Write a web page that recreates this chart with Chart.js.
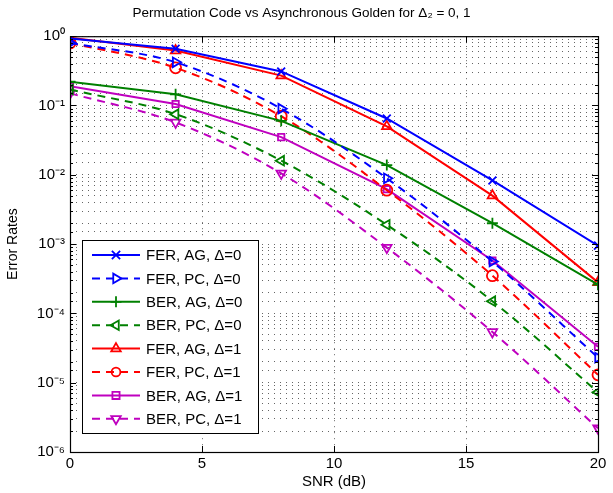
<!DOCTYPE html>
<html>
<head>
<meta charset="utf-8">
<script src="https://cdn.jsdelivr.net/npm/chart.js@4"></script>
<style>
  html, body { margin: 0; padding: 0; background: #fff; }
  #wrap { width: 613px; height: 493px; }
</style>
</head>
<body>
<div id="wrap"><canvas id="errChart" width="613" height="493"></canvas></div>
<script>
// SNR points (dB)
const snr = [0, 4, 8, 12, 16, 20];

// error rates
const ferAg0 = [0.93, 0.66, 0.31, 0.065, 0.0083, 0.00095];
const ferPc0 = [0.8, 0.42, 0.09, 0.0089, 0.00056, 2.3e-5];
const berAg0 = [0.22, 0.145, 0.06, 0.0138, 0.002, 2.6e-4];
const berPc0 = [0.17, 0.075, 0.016, 0.0019, 1.5e-4, 7.3e-6];
const ferAg1 = [0.95, 0.62, 0.27, 0.05, 0.005, 2.8e-4];
const ferPc1 = [0.8, 0.35, 0.07, 0.006, 3.5e-4, 1.3e-5];
const berAg1 = [0.19, 0.105, 0.035, 0.0062, 5.8e-4, 3.3e-5];
const berPc1 = [0.15, 0.057, 0.0105, 8.9e-4, 5.4e-5, 2.2e-6];

const seriesLabels = [
    'FER, AG, \u0394=0', 'FER, PC, \u0394=0', 'BER, AG, \u0394=0', 'BER, PC, \u0394=0',
    'FER, AG, \u0394=1', 'FER, PC, \u0394=1', 'BER, AG, \u0394=1', 'BER, PC, \u0394=1'
];
const seriesData = [ferAg0, ferPc0, berAg0, berPc0, ferAg1, ferPc1, berAg1, berPc1];

const BLUE = '#0000ff', GREEN = '#008000', RED = '#ff0000', MAGENTA = '#bf00bf';
const colors = [BLUE, BLUE, GREEN, GREEN, RED, RED, MAGENTA, MAGENTA];
const markers = ['crossRot', 'triangle', 'cross', 'triangle', 'triangle', 'circle', 'rect', 'triangle'];
const rotations = [0, 90, 0, -90, 0, 0, 0, 180];

const FONT = '"Liberation Sans", Arial, Helvetica, sans-serif';

function sup(n) {
    const map = { '-': '\u207b', '0': '\u2070', '1': '\u00b9', '2': '\u00b2', '3': '\u00b3',
        '4': '\u2074', '5': '\u2075', '6': '\u2076', '7': '\u2077', '8': '\u2078', '9': '\u2079' };
    return String(n).split('').map(c => map[c]).join('');
}

const datasets = seriesData.map((vals, i) => {
    const dashed = i % 2 === 1;
    return {
        label: seriesLabels[i],
        data: snr.map((x, k) => ({ x: x, y: vals[k] })),
        borderColor: colors[i],
        backgroundColor: 'rgba(0,0,0,0)',
        borderWidth: 2,
        borderDash: dashed ? [8, 6] : [],
        cubicInterpolationMode: dashed ? 'monotone' : 'default',
        tension: 0,
        pointStyle: markers[i],
        rotation: rotations[i],
        pointRadius: markers[i] === 'rect' ? 4.5 : 5.5,
        pointBorderWidth: 1.8,
        pointBorderColor: colors[i],
        pointBackgroundColor: 'rgba(0,0,0,0)'
    };
});

// axis box + inner tick marks, matlab style
const boxPlugin = {
    id: 'box',
    afterDatasetsDraw(chart) {
        const { ctx, chartArea: a, scales } = chart;
        ctx.save();
        ctx.strokeStyle = '#000';
        ctx.lineWidth = 1;
        ctx.setLineDash([]);
        ctx.beginPath();
        scales.y.ticks.forEach(t => {
            const y = Math.round(scales.y.getPixelForValue(t.value)) + 0.5;
            const major = t.label !== '';
            const len = major ? 6 : 3;
            ctx.moveTo(a.left, y); ctx.lineTo(a.left + len, y);
            ctx.moveTo(a.right, y); ctx.lineTo(a.right - len, y);
        });
        scales.x.ticks.forEach(t => {
            const x = Math.round(scales.x.getPixelForValue(t.value)) + 0.5;
            ctx.moveTo(x, a.bottom); ctx.lineTo(x, a.bottom - 6);
            ctx.moveTo(x, a.top); ctx.lineTo(x, a.top + 6);
        });
        ctx.stroke();
        ctx.lineWidth = 1.2;
        ctx.strokeRect(a.left + 0.5, a.top + 0.5, a.right - a.left, a.bottom - a.top);
        ctx.restore();
    }
};

function drawMarker(ctx, style, rot, x, y, r) {
    ctx.save();
    ctx.translate(x, y);
    ctx.rotate(rot * Math.PI / 180);
    ctx.beginPath();
    if (style === 'triangle') {
        ctx.moveTo(0, -r);
        ctx.lineTo(r * 0.866, r * 0.5);
        ctx.lineTo(-r * 0.866, r * 0.5);
        ctx.closePath();
    } else if (style === 'circle') {
        ctx.arc(0, 0, r * 0.8, 0, Math.PI * 2);
    } else if (style === 'rect') {
        ctx.rect(-r * 0.65, -r * 0.65, r * 1.3, r * 1.3);
    } else if (style === 'cross') {
        ctx.moveTo(-r, 0); ctx.lineTo(r, 0);
        ctx.moveTo(0, -r); ctx.lineTo(0, r);
    } else if (style === 'crossRot') {
        const d = r * 0.75;
        ctx.moveTo(-d, -d); ctx.lineTo(d, d);
        ctx.moveTo(d, -d); ctx.lineTo(-d, d);
    }
    ctx.stroke();
    ctx.restore();
}

// legend box in the lower left corner, line + marker samples
const legendPlugin = {
    id: 'innerLegend',
    afterDraw(chart) {
        const { ctx } = chart;
        const left = 82, top = 240, w = 176, h = 193;
        const rowH = 23.4;
        ctx.save();
        ctx.fillStyle = '#fff';
        ctx.fillRect(left, top, w, h);
        ctx.strokeStyle = '#000';
        ctx.lineWidth = 1;
        ctx.strokeRect(left + 0.5, top + 0.5, w, h);
        ctx.font = '15px ' + FONT;
        ctx.textBaseline = 'middle';
        chart.data.datasets.forEach((ds, i) => {
            const y = top + 15 + i * rowH;
            ctx.strokeStyle = ds.borderColor;
            ctx.lineWidth = 2;
            ctx.setLineDash(ds.borderDash);
            ctx.beginPath();
            ctx.moveTo(left + 10, y);
            ctx.lineTo(left + 58, y);
            ctx.stroke();
            ctx.setLineDash([]);
            ctx.lineWidth = 1.8;
            drawMarker(ctx, ds.pointStyle, ds.rotation, left + 34, y, 5.5);
            ctx.fillStyle = '#000';
            ctx.fillText(ds.label, left + 64, y + 1);
        });
        ctx.restore();
    }
};

new Chart(document.getElementById('errChart'), {
    type: 'line',
    data: { datasets: datasets },
    plugins: [boxPlugin, legendPlugin],
    options: {
        responsive: false,
        animation: false,
        layout: { padding: { left: 5, right: 15, top: 0, bottom: 0 } },
        plugins: {
            legend: { display: false },
            tooltip: { enabled: false },
            title: {
                display: true,
                text: 'Permutation Code vs Asynchronous Golden for \u0394\u2082 = 0, 1',
                color: '#000',
                font: { family: FONT, size: 13.5, weight: 'normal' },
                padding: { top: 5, bottom: 15 }
            }
        },
        scales: {
            x: {
                type: 'linear',
                min: 0,
                max: 20,
                ticks: {
                    stepSize: 5,
                    color: '#000',
                    font: { family: FONT, size: 15 },
                    padding: 3
                },
                grid: { color: 'rgba(0,0,0,0.6)', lineWidth: 1, drawTicks: false },
                border: { display: false, dash: [1, 5] },
                title: {
                    display: true,
                    text: 'SNR (dB)',
                    color: '#000',
                    font: { family: FONT, size: 15 },
                    padding: { top: 0, bottom: 2 }
                },
                afterFit(scale) { scale.height = 41; }
            },
            y: {
                type: 'logarithmic',
                min: 1e-6,
                max: 1,
                ticks: {
                    autoSkip: false,
                    color: '#000',
                    font: { family: FONT, size: 15 },
                    padding: 5,
                    callback(v) {
                        const e = Math.round(Math.log10(v));
                        return Math.abs(v - Math.pow(10, e)) / v < 1e-6 ? '10' + sup(e) : '';
                    }
                },
                grid: { color: 'rgba(0,0,0,0.6)', lineWidth: 1, drawTicks: false },
                border: { display: false, dash: [1, 5] },
                title: {
                    display: true,
                    text: 'Error Rates',
                    color: '#000',
                    font: { family: FONT, size: 14 },
                    padding: { top: 0, bottom: 4 }
                },
                afterFit(scale) { scale.width = 65; }
            }
        }
    }
});
</script>
</body>
</html>
